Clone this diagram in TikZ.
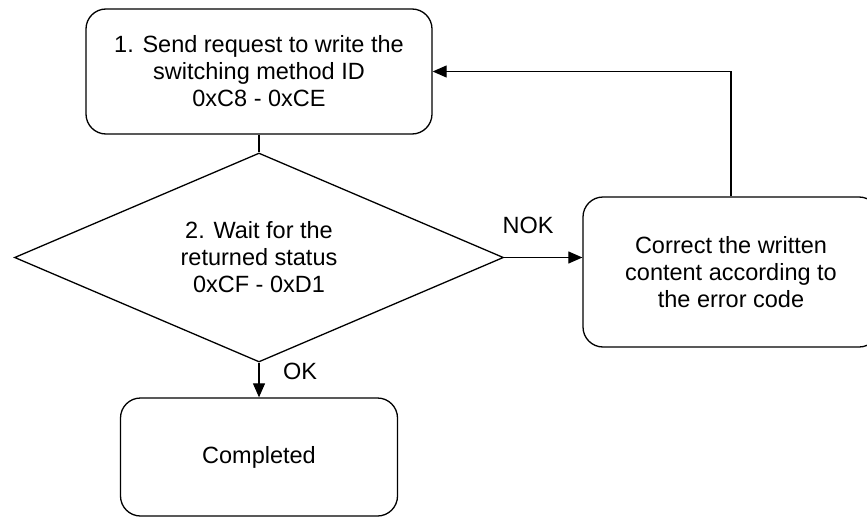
\documentclass[tikz,border=0pt]{standalone}
\usepackage{fontspec}
\setmainfont{Liberation Sans}
\usetikzlibrary{shapes.geometric,arrows.meta}
\begin{document}
\begin{tikzpicture}[x=1pt,y=-1pt,
  every node/.style={font=\fontsize{23.5}{27}\selectfont},
  box/.style={draw,line width=1.3pt,rounded corners=20pt,align=center,inner sep=0pt},
  dec/.style={draw,line width=1.3pt,diamond,aspect=2.34,inner sep=0pt,align=center,minimum width=489pt,minimum height=209pt},
  conn/.style={line width=1.1pt},
  arr/.style={conn,-{Triangle[length=14pt,width=12pt]}}]
\clip (0,0) rectangle (867,519);
\node[box,minimum width=346pt,minimum height=125pt] (b1) at (259,71.5) {1. Send request to write the\\switching method ID\\0xC8 - 0xCE};
\node[dec] (d) at (259,257.5) {2. Wait for the\\returned status\\0xCF - 0xD1};
\node[box,minimum width=296pt,minimum height=150pt] (rb) at (731,272) {Correct the written\\content according to\\the error code};
\node[box,minimum width=277pt,minimum height=118pt] (bb) at (259,457) {Completed};
\node (nok) at (528,225) {NOK};
\node (ok) at (300,371) {OK};
\draw[conn] (b1.south) -- (d.north);
\draw[arr] (d.east) -- (d.east -| rb.west);
\draw[arr] (d.south) -- (bb.north);
\draw[arr] (rb.north) -- (rb.north |- b1.east) -- (b1.east);
\end{tikzpicture}
\end{document}
